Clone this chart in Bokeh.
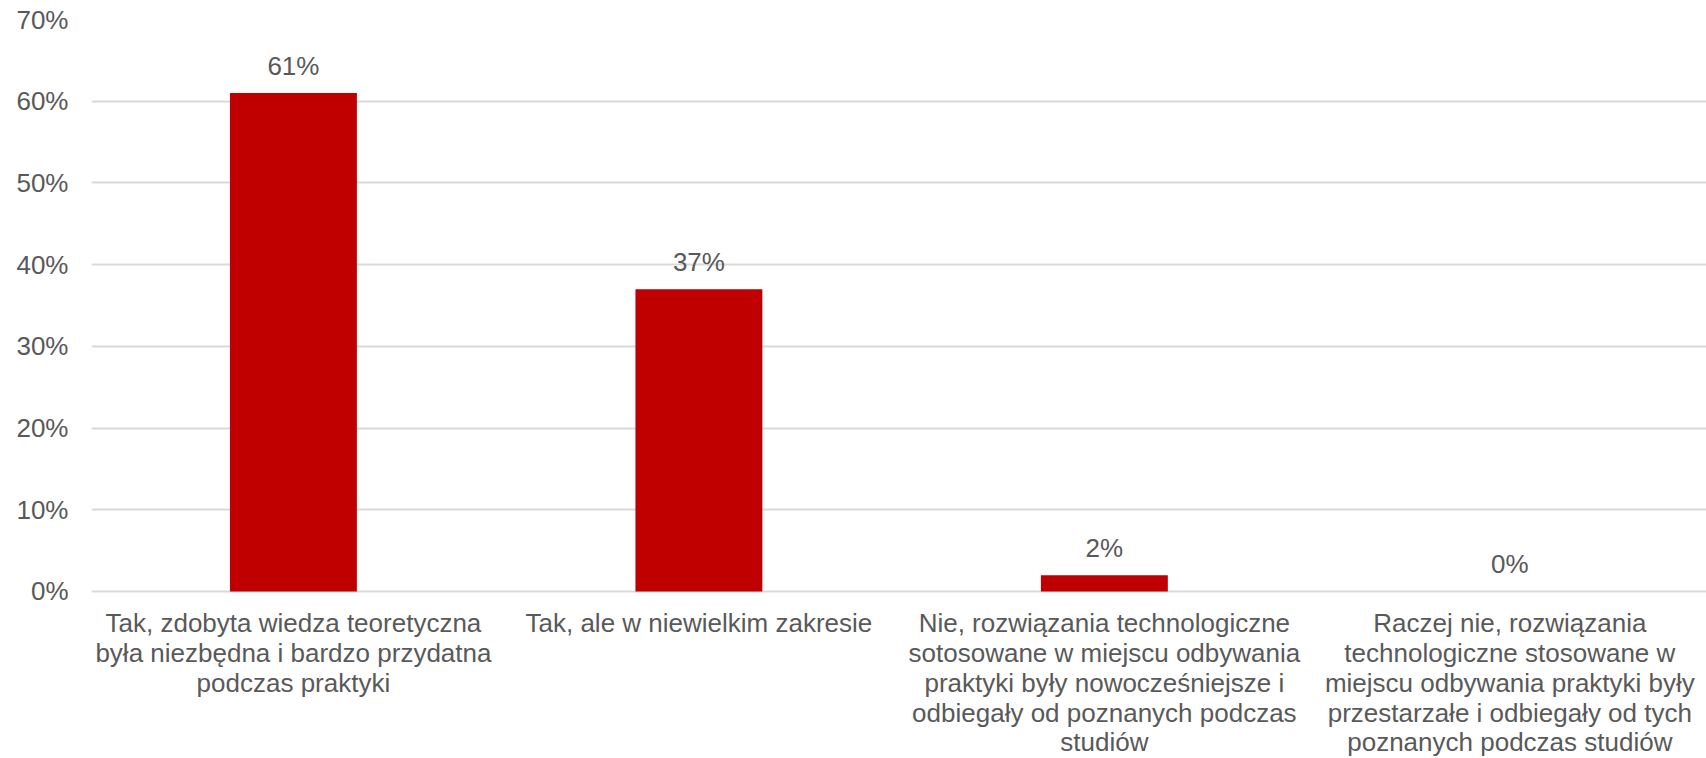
from bokeh.plotting import figure
from bokeh.models import Range1d, FixedTicker, PrintfTickFormatter, ColumnDataSource
from bokeh.embed import file_html
from bokeh.resources import INLINE
from bokeh.core.properties import value

categories = [
    "Tak, zdobyta wiedza teoretyczna\nbyła niezbędna i bardzo przydatna\npodczas praktyki",
    "Tak, ale w niewielkim zakresie",
    "Nie, rozwiązania technologiczne\nsotosowane w miejscu odbywania\npraktyki były nowocześniejsze i\nodbiegały od poznanych podczas\nstudiów",
    "Raczej nie, rozwiązania\ntechnologiczne stosowane w\nmiejscu odbywania praktyki były\nprzestarzałe i odbiegały od tych\npoznanych podczas studiów",
]
values = [61, 37, 2, 0]
y_ticks = [0, 10, 20, 30, 40, 50, 60, 70]

FONT = "Liberation Sans"
TXT = "#595959"

xs = list(range(len(categories)))
src = ColumnDataSource(dict(x=xs, top=values, base=[0] * len(xs),
                            label=[f"{v}%" for v in values], cat=categories))

# frame runs to the bottom of the figure so the category texts (below 0%) are drawn inside it
p = figure(width=1706, height=758, output_backend="svg", toolbar_location=None,
           x_range=Range1d(-0.498, 3.485), y_range=Range1d(-20.44, 70),
           min_border_left=91, min_border_right=0, min_border_top=19, min_border_bottom=0)

p.vbar(x="x", top="top", width=0.313, source=src, fill_color="#C00000", line_color=None)
p.text(x="x", y="top", text="label", source=src, text_align="center",
       text_baseline="alphabetic", y_offset=-27, text_font=value(FONT),
       text_font_size="26px", text_color=TXT)
p.text(x="x", y="base", text="cat", source=src, text_align="center",
       text_baseline="top", y_offset=17, text_font=value(FONT),
       text_font_size="26px", text_color=TXT, text_line_height=0.99)

p.outline_line_color = None
p.xgrid.grid_line_color = None
p.ygrid.grid_line_color = "#d9d9d9"
p.ygrid.grid_line_width = 2

p.yaxis.ticker = FixedTicker(ticks=y_ticks)
p.yaxis.formatter = PrintfTickFormatter(format="%d%%")
p.xaxis.visible = False

ax = p.yaxis
ax.axis_line_color = None
ax.major_tick_line_color = None
ax.minor_tick_line_color = None
ax.major_tick_out = 0
ax.major_tick_in = 0
ax.major_label_text_font = FONT
ax.major_label_text_font_size = "26px"
ax.major_label_text_color = TXT
ax.major_label_standoff = 23

open("out.html", "w").write(file_html(p, INLINE))
